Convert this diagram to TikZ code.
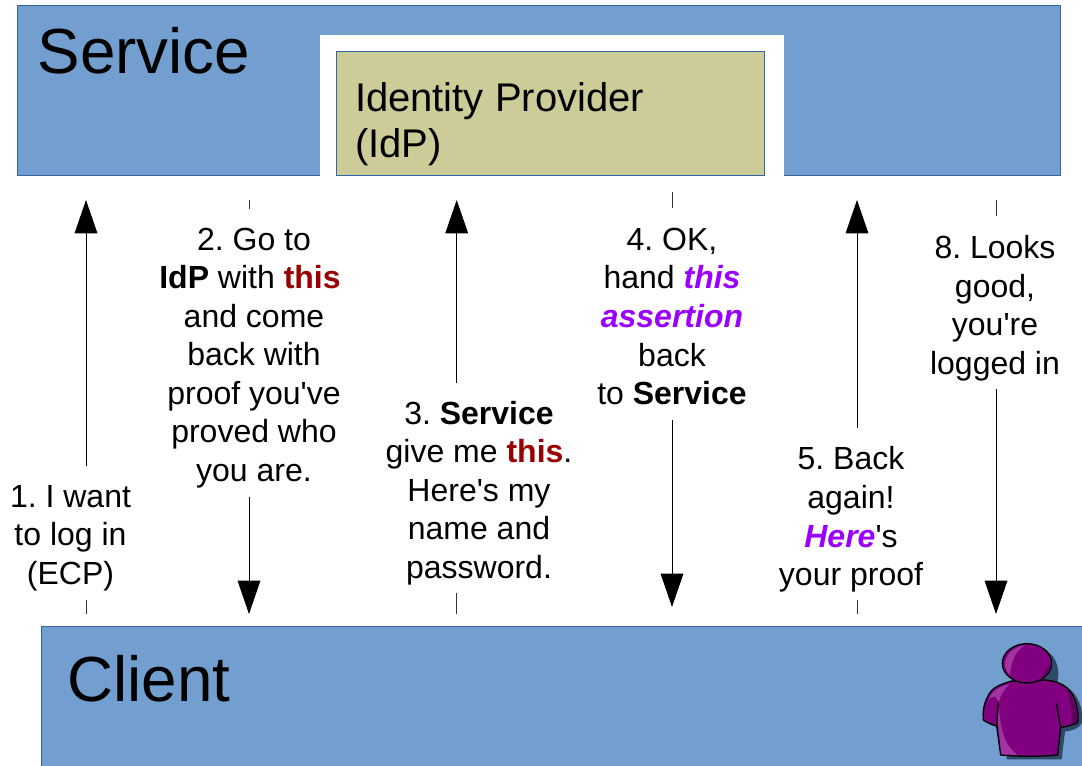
\documentclass[tikz,border=0pt]{standalone}
\usepackage{fontspec}
\setmainfont{Liberation Sans}
\usetikzlibrary{arrows.meta}
\definecolor{boxblue}{HTML}{729FCF}
\definecolor{edgeblue}{HTML}{3465A4}
\definecolor{idpfill}{HTML}{CCCC99}
\definecolor{redword}{HTML}{990000}
\definecolor{violetword}{HTML}{9900FF}
\definecolor{personfill}{HTML}{800080}
\definecolor{personlight}{HTML}{A035A0}
\definecolor{persondark}{HTML}{5C005C}
\definecolor{personshadow}{HTML}{2F4A68}
\newcommand{\redw}[1]{\textbf{\textcolor{redword}{#1}}}
\newcommand{\vio}[1]{\textbf{\textit{\textcolor{violetword}{#1}}}}
\newcommand{\apos}{\textquotesingle}
\tikzset{
  every node/.style={inner sep=0pt,outer sep=0pt},
  bluebox/.style={draw=edgeblue,line width=0.6pt,fill=boxblue},
  titletext/.style={font=\fontsize{47.8}{55}\selectfont,anchor=base west},
  idptext/.style={font=\fontsize{30}{34.5}\selectfont,align=left,anchor=west},
  msg/.style={font=\fontsize{24}{28.9}\selectfont\frenchspacing,align=center},
  tick/.style={draw=black!80,line width=0.6pt},
  flow/.style={draw=black,line width=0.7pt,-{Triangle[width=17pt,length=25pt]},shorten >=0pt},
}
\begin{document}
\begin{tikzpicture}[x=0.75pt,y=-0.75pt]
\useasboundingbox (0,0) rectangle (1082,766);
\begin{scope}
\clip (0,0) rectangle (1082,766);
% boxes
\node[bluebox,minimum width=782.5pt,minimum height=127.5pt] (service) at (538.7,90.7) {};
\node[fill=white,minimum width=348pt,minimum height=106pt] (idpframe) at (552,105.5) {};
\node[bluebox,fill=idpfill,minimum width=320.5pt,minimum height=93pt] (idp) at (550.5,113.7) {};
\node[bluebox,minimum width=781pt,minimum height=105pt] (client) at (562,696) {};
\node[titletext] (servicetitle) at (37.5,74) {Service};
\node[titletext] (clienttitle) at (67.5,701) {Client};
\node[idptext] (idptitle) at (355,124) {Identity Provider\\(IdP)};
% person
\begin{scope}[shift={(960,620)},scale=1/3]
  \fill[personshadow] (165,195) .. controls (130,215) and (85,230) .. (85,305)
     -- (135,325) -- (140,418) -- (305,418) -- (315,335)
     .. controls (340,330) and (365,325) .. (367,300)
     .. controls (368,240) and (335,200) .. (292,185)
     .. controls (300,160) and (295,110) .. (255,90) -- (160,170) -- cycle;
  \filldraw[fill=personfill,draw=black,line width=1pt,line join=round]
     (155,183) .. controls (125,192) and (95,200) .. (82,232)
     .. controls (70,255) and (68,280) .. (70,300)
     .. controls (82,308) and (96,315) .. (110,318)
     -- (122,405) .. controls (180,410) and (240,410) .. (293,405)
     -- (302,322) .. controls (320,320) and (340,315) .. (353,308)
     .. controls (358,270) and (345,225) .. (322,205)
     .. controls (305,190) and (285,183) .. (255,180) -- cycle;
  \fill[personlight] (113,300) -- (124,403) -- (172,405)
     .. controls (140,380) and (118,340) .. (117,245)
     .. controls (122,222) and (135,205) .. (150,192)
     .. controls (120,198) and (97,212) .. (86,238)
     .. controls (100,225) and (108,228) .. (113,240) -- cycle;
  \fill[persondark] (320,210) .. controls (340,230) and (352,270) .. (351,305)
     -- (335,312) .. controls (338,275) and (330,240) .. (320,210) -- cycle;
  \draw[black,line width=1pt] (115,245) -- (110,318);
  \draw[black,line width=1pt] (289,250) -- (302,322);
  \filldraw[fill=personfill,draw=black,line width=1pt] (201,130) ellipse [x radius=74,y radius=59];
  \fill[personlight] (135,140) .. controls (132,105) and (160,80) .. (195,76)
     .. controls (170,90) and (155,115) .. (150,165) .. controls (143,158) and (137,150) .. (135,140) -- cycle;
  \fill[persondark] (272,128) .. controls (270,150) and (255,170) .. (240,180)
     .. controls (255,160) and (262,145) .. (272,128) -- cycle;
\end{scope}
\end{scope}
% messages
\node[msg] (m1) at (70.5,538) {1. I want\\to log in\\(ECP)};
\node[msg] (m2) at (254,358) {2. Go to\\\textbf{IdP} with \redw{this}\kern6pt\\and come\\back with\\proof you\apos ve\\proved who\\you are.};
\node[msg] (m3) at (479,493) {3. \textbf{Service}\\give me \redw{this}.\\Here\apos s my\\name and\\password.};
\node[msg] (m4) at (672,316.5) {4. OK,\\hand \vio{this}\\\vio{assertion}\\back\\to \textbf{Service}};
\node[msg] (m5) at (851,519.5) {5. Back\\again!\\\vio{Here}\apos s\\your proof};
\node[msg] (m8) at (995,308) {8. Looks\\good,\\you\apos re\\logged in};
% connector free ends
\coordinate (a1s) at (86,600); \coordinate (a1t) at (86,614);
\coordinate (a1b) at (86,466); \coordinate (a1e) at (86,200);
\coordinate (a2s) at (249,200); \coordinate (a2t) at (249,209);
\coordinate (a2b) at (249,497); \coordinate (a2e) at (249,614);
\coordinate (a3s) at (456.7,593); \coordinate (a3t) at (456.7,614);
\coordinate (a3b) at (456.7,383); \coordinate (a3e) at (456.7,200);
\coordinate (a4s) at (672,192); \coordinate (a4t) at (672,208);
\coordinate (a4b) at (672,420); \coordinate (a4e) at (672,607);
\coordinate (a5s) at (857,600); \coordinate (a5t) at (857,614);
\coordinate (a5b) at (857,428); \coordinate (a5e) at (857,200);
\coordinate (a8s) at (996,200); \coordinate (a8t) at (996,216);
\coordinate (a8b) at (996,389); \coordinate (a8e) at (996,614);
\foreach \n in {1,2,3,4,5,8}{
  \draw[tick] (a\n s) -- (a\n t);
  \draw[flow] (a\n b) -- (a\n e);
}
\end{tikzpicture}
\end{document}
